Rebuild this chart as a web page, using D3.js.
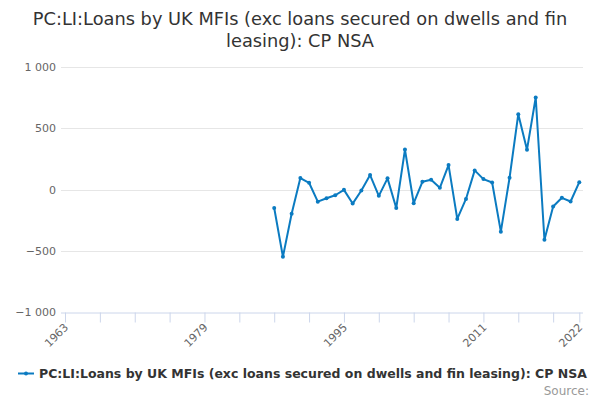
<!DOCTYPE html>
<html><head><meta charset="utf-8">
<script src="https://cdn.jsdelivr.net/npm/d3@7"></script>
<style>
html,body{margin:0;padding:0;background:#fff;}
svg{font-family:"DejaVu Sans",sans-serif;display:block;}
</style></head>
<body><svg id="c" width="600" height="400"></svg>
<script>
const titleLines = ["PC:LI:Loans by UK MFIs (exc loans secured on dwells and fin", "leasing): CP NSA"];
const seriesName = "PC:LI:Loans by UK MFIs (exc loans secured on dwells and fin leasing): CP NSA";
const years = [1987,1988,1989,1990,1991,1992,1993,1994,1995,1996,1997,1998,1999,2000,2001,2002,2003,2004,2005,2006,2007,2008,2009,2010,2011,2012,2013,2014,2015,2016,2017,2018,2019,2020,2021,2022];
const values = [-151,-549,-198,93,55,-99,-71,-47,-3,-115,-8,118,-52,91,-151,326,-112,63,79,14,199,-240,-77,156,85,57,-344,96,615,325,751,-410,-139,-68,-98,60];
const yTicks = [-1000,-500,0,500,1000];
const xTickLabels = [1963,1979,1995,2011,2022];
const xTickMarks = [1963,1967,1971,1975,1979,1983,1987,1991,1995,1999,2003,2007,2011,2015,2019,2022];

const svg = d3.select("#c");
const x = d3.scaleLinear().domain([1963,2022]).range([65,579.3]);
const y = d3.scaleLinear().domain([-1000,1000]).range([312,67]);
const color = "#0b7bc1";
const fmt = v => d3.format(",")(v).replace(/,/g," ");

svg.append("g").selectAll("text").data(titleLines).join("text")
  .attr("x",300).attr("y",(d,i)=>25+i*22).attr("text-anchor","middle")
  .attr("fill","#333").attr("font-size",17.8).text(d=>d);

// grid
svg.append("g").selectAll("line").data(yTicks.filter(d=>d!==-1000)).join("line")
  .attr("x1",61).attr("x2",583).attr("y1",d=>Math.round(y(d))+0.5).attr("y2",d=>Math.round(y(d))+0.5)
  .attr("stroke","#e6e6e6").attr("stroke-width",1);

// y labels
svg.append("g").selectAll("text").data(yTicks).join("text")
  .attr("x",56).attr("y",d=>y(d)+4).attr("text-anchor","end")
  .attr("fill","#666").attr("font-size",11).text(d=>fmt(d));

// x axis
const xAxis = d3.axisBottom(x).tickValues(xTickMarks).tickSize(10).tickFormat("");
const gx = svg.append("g").attr("transform","translate(0,312.5)").call(xAxis);
gx.select(".domain").attr("stroke","#ccd6eb").attr("d","M61,0.5H583");
gx.selectAll(".tick line").attr("stroke","#ccd6eb");
svg.append("g").selectAll("text").data(xTickLabels).join("text")
  .attr("transform",d=>`translate(${x(d)+4},${328}) rotate(-45)`)
  .attr("text-anchor","end").attr("fill","#666").attr("font-size",11).text(d=>d);

// line
const data = years.map((yr,i)=>({yr,v:values[i]}));
svg.append("path").datum(data)
  .attr("d",d3.line().x(d=>x(d.yr)).y(d=>y(d.v)))
  .attr("fill","none").attr("stroke",color).attr("stroke-width",2).attr("stroke-linejoin","round");
svg.append("g").selectAll("circle").data(data).join("circle")
  .attr("cx",d=>x(d.yr)).attr("cy",d=>y(d.v)).attr("r",2).attr("fill",color);

// legend
const lg = svg.append("g");
lg.append("line").attr("x1",18).attr("x2",34).attr("y1",373.5).attr("y2",373.5).attr("stroke",color).attr("stroke-width",2);
lg.append("circle").attr("cx",26).attr("cy",373.5).attr("r",2).attr("fill",color);
lg.append("text").attr("x",39).attr("y",378).attr("fill","#333").attr("font-size",12.5).attr("font-weight","bold").text(seriesName);

svg.append("text").attr("x",589).attr("y",395).attr("text-anchor","end").attr("fill","#999").attr("font-size",12).text("Source:");
</script></body></html>
